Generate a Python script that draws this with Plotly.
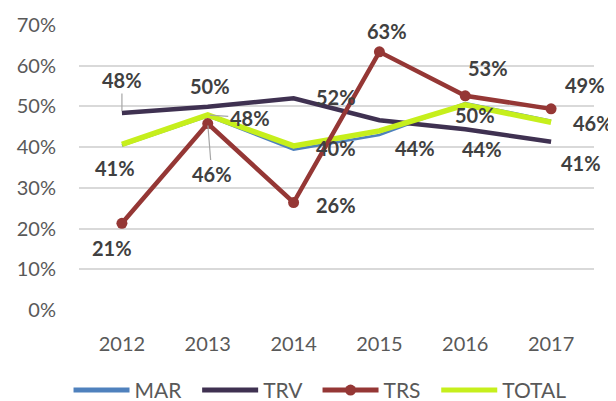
import plotly.graph_objects as go

years = ["2012", "2013", "2014", "2015", "2016", "2017"]
mar = [0.404, 0.476, 0.394, 0.430, 0.508, 0.465]
trv = [0.484, 0.499, 0.520, 0.466, 0.444, 0.413]
trs = [0.213, 0.458, 0.264, 0.634, 0.526, 0.494]
total = [0.407, 0.479, 0.403, 0.440, 0.504, 0.461]
y_ticks = [0, 0.1, 0.2, 0.3, 0.4, 0.5, 0.6, 0.7]

FONT = "Lato"
LBL = dict(family=FONT, size=20, color="#404040")

colors = {"MAR": "#4F81BD", "TRV": "#3F3151", "TRS": "#953735", "TOTAL": "#C6EF1C"}

fig = go.Figure()
fig.add_trace(go.Scatter(x=years, y=mar, name="MAR", mode="lines", showlegend=False,
                         line=dict(color=colors["MAR"], width=2.5)))
fig.add_trace(go.Scatter(x=years, y=trv, name="TRV", mode="lines", showlegend=False,
                         line=dict(color=colors["TRV"], width=4.5)))
fig.add_trace(go.Scatter(x=years, y=total, name="TOTAL", mode="lines", showlegend=False,
                         line=dict(color=colors["TOTAL"], width=5.5)))
fig.add_trace(go.Scatter(x=years, y=trs, name="TRS", mode="lines+markers", showlegend=False,
                         line=dict(color=colors["TRS"], width=4.5),
                         marker=dict(size=11, color=colors["TRS"])))

# legend-only entries (thick keys like the reference)
PAD = "\u00a0\u00a0"
for nm in ["MAR", "TRV", "TRS", "TOTAL"]:
    fig.add_trace(go.Scatter(x=[None], y=[None], name=nm if nm == "TOTAL" else nm + PAD,
                             mode="lines+markers" if nm == "TRS" else "lines",
                             line=dict(color=colors[nm], width=5),
                             marker=dict(size=11, color=colors[nm])))

# label offsets (dx, dy in px; dy positive = up)
trv_off = [None, (2, 21), (42, 1), None, (17, -20), (30, -21)]
trs_off = [(-10, -25), None, (42, -2), (8, 21), (23, 28), (34, 24)]
tot_off = [(-7, -24), None, (42, -2), (36, -17), (10, -10), (42, -1)]

annotations = []

def add_labels(vals, offs):
    for i, (v, off) in enumerate(zip(vals, offs)):
        if off is None:
            continue
        annotations.append(dict(x=i, y=v, xref="x", yref="y",
                                text="<b>%d%%</b>" % round(v * 100),
                                showarrow=False, xshift=off[0], yshift=off[1], font=LBL))

add_labels(trv, trv_off)
add_labels(trs, trs_off)
add_labels(total, tot_off)

# labels with leader lines
leader = [(0, trv, 0, -33), (1, trs, 4, 50), (1, total, 42, 3)]
for i, vals, ax, ay in leader:
    annotations.append(dict(x=i, y=vals[i], xref="x", yref="y",
                            text="<b>%d%%</b>" % round(vals[i] * 100),
                            showarrow=True, arrowhead=0, arrowwidth=1.2, arrowcolor="#A6A6A6",
                            ax=ax, ay=ay, standoff=2, font=LBL))

fig.update_layout(
    width=608, height=393,
    margin=dict(l=71, r=22, t=17, b=91, autoexpand=False),
    paper_bgcolor="white", plot_bgcolor="white",
    showlegend=True,
    annotations=annotations,
    legend=dict(orientation="h", x=0.468, xanchor="center", y=-0.282, yanchor="middle",
                font=dict(family=FONT, size=21, color="#595959"),
                itemwidth=56, traceorder="normal",
                bgcolor="rgba(0,0,0,0)"),
    font=dict(family=FONT),
)
fig.update_xaxes(type="category", range=[-0.5, 5.5], showgrid=False, showline=False,
                 ticks="", tickfont=dict(family=FONT, size=20, color="#595959"),
                 ticklabelstandoff=20, zeroline=False)
fig.update_yaxes(range=[0, 0.7], tickvals=y_ticks, tickformat=".0%",
                 showgrid=True, gridcolor="#D9D9D9", gridwidth=1.5, zeroline=False,
                 showline=False, ticks="", ticklabelstandoff=22,
                 tickfont=dict(family=FONT, size=20, color="#595959"))

fig.write_html("out.html")
